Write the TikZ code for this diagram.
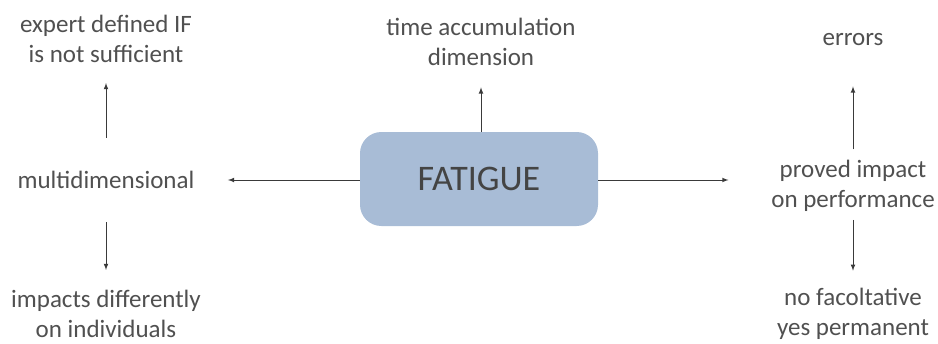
\documentclass[tikz,border=0pt]{standalone}
\usepackage{fontspec}
\setmainfont{Carlito}
\definecolor{txtgray}{HTML}{505050}
\definecolor{boxblue}{HTML}{A8BCD6}
\definecolor{arrgray}{HTML}{3A3A3A}
\begin{document}
\begin{tikzpicture}[x=0.75pt,y=-0.75pt,
	lbl/.style={text=txtgray,align=center,inner sep=0pt,font=\fontsize{18.75}{22.5}\selectfont},
	conn/.style={-latex,draw=arrgray,line width=0.6pt}]
	\useasboundingbox (0,0) rectangle (938,343);
	\node[fill=boxblue,rounded corners=16pt,minimum width=178.5pt,minimum height=70.5pt,
		text=txtgray!85!black,font=\fontsize{27}{30}\selectfont] at (479,179) (fatigue) {FATIGUE};
	%
	\node[lbl] at (481,42) (time) {time accumulation\\dimension};
	\node[lbl] at (106,180) (multi) {multidimensional};
	\node[lbl] at (106,39) (expert) {expert defined IF\\is not sufficient};
	\node[lbl] at (106,314) (impacts) {impacts differently\\on individuals};
	\node[lbl] at (853,186) (proved) {proved impact\\on performance};
	\node[lbl] at (853,40) (errors) {errors};
	\node[lbl] at (853,314) (nofac) {no facoltative\\yes permanent};
	%
	\draw[conn,shorten >=16pt] (fatigue.north -| time.south) -- (time.south);
	\draw[conn,shorten >=25pt] (fatigue.west |- multi.east) -- (multi.east);
	\draw[conn,shorten >=32pt] (fatigue.east |- multi.east) -- (proved.west |- multi.east);
	\draw[conn,shorten <=25pt,shorten >=15pt] (multi.north) -- (expert.south);
	\draw[conn,shorten <=25pt,shorten >=15pt] (multi.south) -- (impacts.north);
	\draw[conn,shorten <=8pt,shorten >=30pt] (proved.north) -- (errors.south);
	\draw[conn,shorten <=6pt,shorten >=13pt] (proved.south) -- (nofac.north);
\end{tikzpicture}
\end{document}
